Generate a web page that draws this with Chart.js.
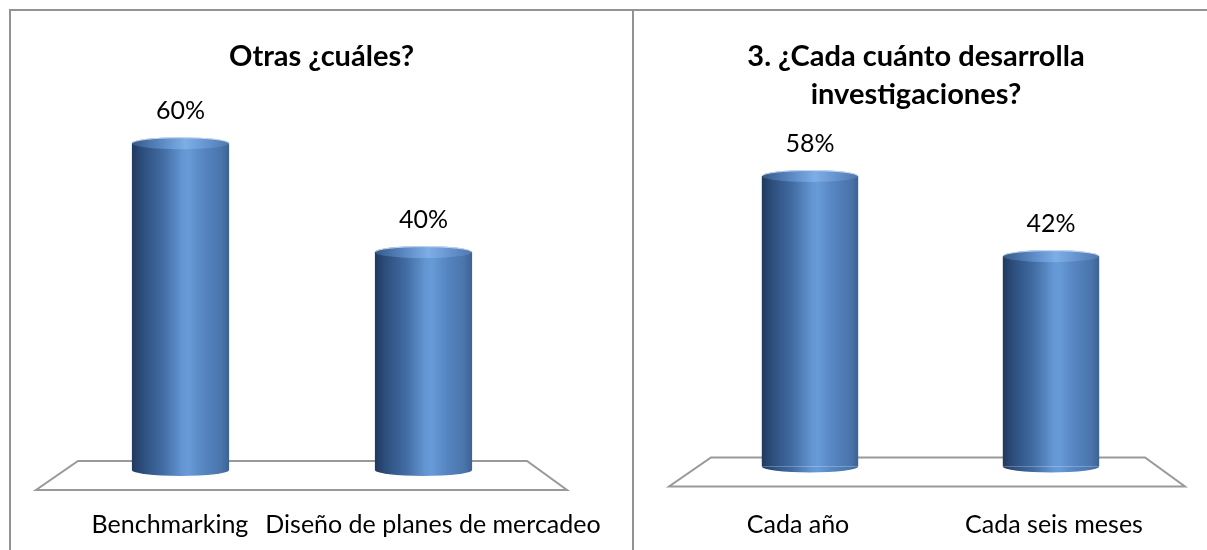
<!DOCTYPE html>
<html><head><meta charset="utf-8">
<script src="https://cdn.jsdelivr.net/npm/chart.js@4.4.1/dist/chart.umd.min.js"></script>
<style>
html,body{margin:0;padding:0;background:#fff;}
body{width:1207px;height:550px;overflow:hidden;position:relative;}
.hline{position:absolute;left:9px;top:9px;width:1198px;height:2px;background:#939393;}
.vline{position:absolute;top:9px;width:2px;height:541px;background:#939393;}
canvas{position:absolute;top:11px;}
#c1{left:11px;}
#c2{left:635px;}
</style>
</head><body>
<div class="hline"></div>
<div class="vline" style="left:9px"></div>
<div class="vline" style="left:632px"></div>
<canvas id="c1" width="621" height="539"></canvas>
<canvas id="c2" width="562" height="539"></canvas>
<script>
// ---- data ----
const chart1Title = 'Otras ¿cuáles?';
const chart1Categories = ['Benchmarking', 'Diseño de planes de mercadeo'];
const chart1Values = [0.60, 0.40];

const chart2Title = ['3. ¿Cada cuánto desarrolla', 'investigaciones?'];
const chart2Categories = ['Cada año', 'Cada seis meses'];
const chart2Values = [0.58, 0.42];

// ---- styling ----
const FONT = 'Lato, "Open Sans", sans-serif';

function cylGradient(ctx, x, w, light) {
  const g = ctx.createLinearGradient(x - w / 2, 0, x + w / 2, 0);
  if (light) {
    g.addColorStop(0, '#35598a');
    g.addColorStop(0.3, '#5a88c4');
    g.addColorStop(0.55, '#7eaee6');
    g.addColorStop(0.8, '#6390cc');
    g.addColorStop(1, '#4f77ad');
  } else {
    g.addColorStop(0, '#213a5d');
    g.addColorStop(0.12, '#2e5080');
    g.addColorStop(0.32, '#426ca3');
    g.addColorStop(0.52, '#6396d2');
    g.addColorStop(0.58, '#679bd7');
    g.addColorStop(0.75, '#5584c0');
    g.addColorStop(0.92, '#4a75ab');
    g.addColorStop(1, '#3d6294');
  }
  return g;
}

function barColor(c) {
  const chart = c.chart;
  const sx = chart.scales && chart.scales.x;
  if (!sx || c.dataIndex === undefined || !chart.chartArea) return '#4f81bd';
  const x = sx.getPixelForValue(c.dataIndex);
  const step = chart.data.labels.length > 1 ? (sx.getPixelForValue(1) - sx.getPixelForValue(0)) : sx.width;
  return cylGradient(chart.ctx, x, step * 0.4, false);
}

const cylinderPlugin = {
  id: 'cyl',
  beforeDatasetsDraw(chart, args, opts) {
    const {ctx, chartArea} = chart;
    const y0 = chart.scales.y.getPixelForValue(0);
    const L = chartArea.left, R = chartArea.right;
    const f = opts.floor;
    ctx.save();
    ctx.beginPath();
    ctx.moveTo(L + f.backL, y0 - f.back);
    ctx.lineTo(R - f.backR, y0 - f.back);
    ctx.lineTo(R + f.frontR, y0 + f.front);
    ctx.lineTo(L - f.frontL, y0 + f.front);
    ctx.closePath();
    ctx.fillStyle = '#ffffff';
    ctx.fill();
    ctx.strokeStyle = '#999999';
    ctx.lineWidth = 2;
    ctx.stroke();
    ctx.restore();
  },
  afterDatasetsDraw(chart, args, opts) {
    const {ctx} = chart;
    const meta = chart.getDatasetMeta(0);
    const values = chart.data.datasets[0].data;
    meta.data.forEach((bar, i) => {
      const {x, y, base, width} = bar.getProps(['x', 'y', 'base', 'width'], true);
      const rx = width / 2, ry = opts.ry;
      ctx.save();
      // bottom of cylinder
      ctx.fillStyle = cylGradient(ctx, x, width, false);
      ctx.beginPath();
      ctx.ellipse(x, base, rx, ry, 0, 0, Math.PI);
      ctx.fill();
      // top cap
      ctx.fillStyle = cylGradient(ctx, x, width, true);
      ctx.beginPath();
      ctx.ellipse(x, y, rx, ry, 0, 0, 2 * Math.PI);
      ctx.fill();
      ctx.strokeStyle = 'rgba(205,222,242,0.9)';
      ctx.lineWidth = 1;
      ctx.beginPath();
      ctx.ellipse(x, y, rx - 0.5, ry - 0.5, 0, Math.PI, 2 * Math.PI);
      ctx.stroke();
      // value label
      ctx.fillStyle = '#000';
      ctx.font = opts.labelFont;
      ctx.textAlign = 'center';
      ctx.textBaseline = 'middle';
      ctx.fillText(Math.round(values[i] * 100) + '%', x, y - opts.labelGap);
      ctx.restore();
    });
  }
};

function makeChart(id, cfg) {
  return new Chart(document.getElementById(id), {
    type: 'bar',
    data: {
      labels: cfg.categories,
      datasets: [{
        data: cfg.values,
        backgroundColor: barColor,
        borderWidth: 0,
        barPercentage: 0.4,
        categoryPercentage: 1.0
      }]
    },
    plugins: [cylinderPlugin],
    options: {
      responsive: false,
      animation: false,
      devicePixelRatio: 1,
      layout: {padding: {left: 0, right: 0, top: 0, bottom: cfg.padBottom}},
      plugins: {
        legend: {display: false},
        tooltip: {enabled: false},
        title: {
          display: true,
          text: cfg.title,
          color: '#000',
          font: {family: FONT, size: 29, weight: 'bold', lineHeight: cfg.titleLH},
          padding: cfg.titlePad
        },
        cyl: {ry: 6, labelGap: cfg.labelGap, labelFont: '25px ' + FONT, floor: cfg.floor}
      },
      scales: {
        x: {type: 'category', display: false, offset: true},
        y: {
          type: 'linear', position: 'left', min: cfg.yMin, max: cfg.yMax,
          ticks: {display: false}, grid: {display: false}, border: {display: false},
          afterFit(s) { s.width = cfg.leftSpace; }
        },
        yr: {
          type: 'linear', position: 'right',
          ticks: {display: false}, grid: {display: false}, border: {display: false},
          afterFit(s) { s.width = cfg.rightSpace; }
        },
        xl: {
          type: 'linear', position: 'bottom', offset: false, bounds: 'data',
          min: cfg.lMin, max: cfg.lMax,
          afterBuildTicks(s) { s.ticks = cfg.categories.map((_, i) => ({value: i})); },
          ticks: {
            autoSkip: false, maxRotation: 0, padding: 2, color: '#000',
            font: {family: FONT, size: 25},
            callback: (v) => cfg.categories[v]
          },
          grid: {display: false, drawTicks: false, offset: false},
          border: {display: false}
        }
      }
    }
  });
}

makeChart('c1', {
  title: chart1Title, categories: chart1Categories, values: chart1Values,
  titleLH: '36px', titlePad: {top: 28, bottom: 41},
  yMin: -0.07, yMax: 0.65, leftSpace: 48, rightSpace: 87, padBottom: 8,
  lMin: -0.422, lMax: 1.426, labelGap: 32,
  floor: {backL: 19, backR: 18, frontL: 23, frontR: 22, back: 9, front: 20}
});

makeChart('c2', {
  title: chart2Title, categories: chart2Categories, values: chart2Values,
  titleLH: '38px', titlePad: {top: 27, bottom: 52},
  yMin: -0.083, yMax: 0.6, leftSpace: 54.5, rightSpace: 25.5, padBottom: 8,
  lMin: -0.424, lMax: 1.459, labelGap: 32,
  floor: {backL: 21.5, backR: 26.5, frontL: 20.5, frontR: 13.5, back: 9, front: 20}
});
</script>
</body></html>
